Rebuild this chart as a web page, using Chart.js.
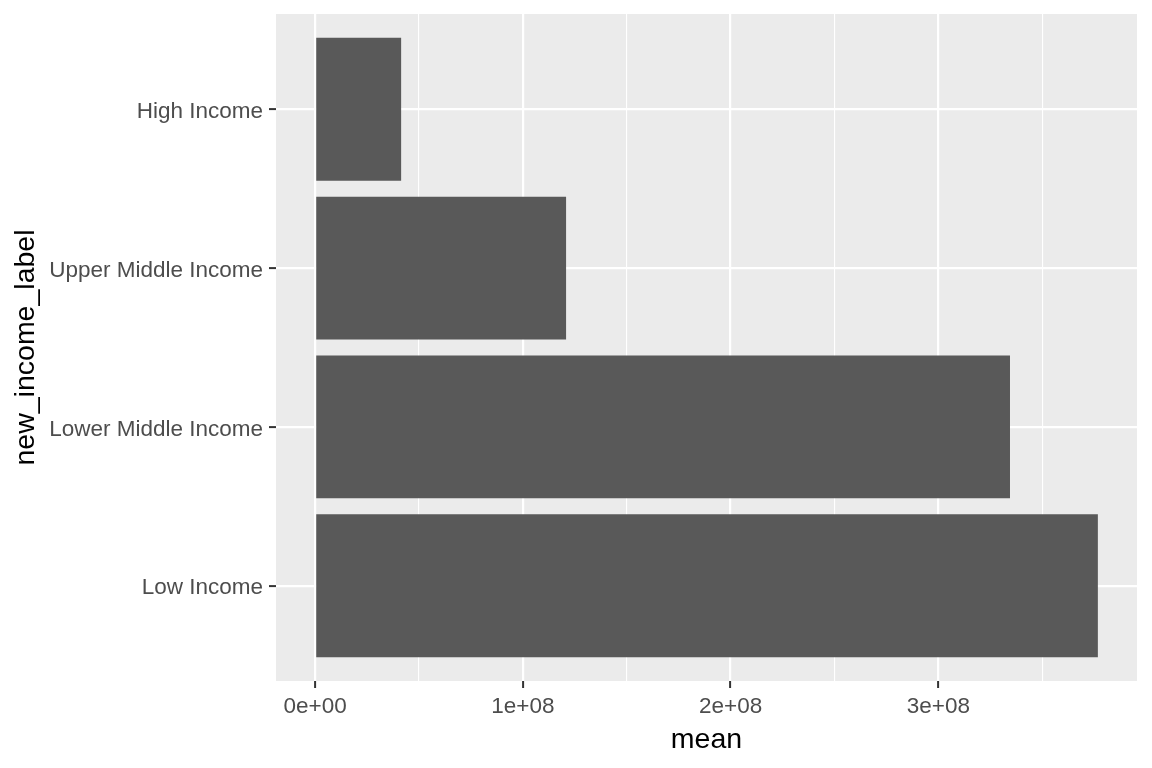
<!DOCTYPE html>
<html>
<head>
<meta charset="utf-8">
<script src="https://cdn.jsdelivr.net/npm/chart.js@4/dist/chart.umd.min.js"></script>
<style>
  html, body { margin: 0; padding: 0; background: #ffffff; }
  #wrap { width: 1152px; height: 768px; position: relative; }
</style>
</head>
<body>
<div id="wrap"><canvas id="c"></canvas></div>
<script>
// ---- data ----
const categories = ['Low Income', 'Lower Middle Income', 'Upper Middle Income', 'High Income'];
const meanValues = [376.8e6, 334.5e6, 120.8e6, 41.4e6];
const xMajorTicks = [0, 1e8, 2e8, 3e8];
const xMajorLabels = ['0e+00', '1e+08', '2e+08', '3e+08'];
const xMinorTicks = [0.5e8, 1.5e8, 2.5e8, 3.5e8];
const xTitle = 'mean';
const yTitle = 'new_income_label';

// ---- derived ----
const positions = categories.map((c, i) => i + 1);
const dataMax = Math.max(...meanValues);
const xMin = -0.05 * dataMax;
const xMax = dataMax * 1.05;
const allXTicks = xMajorTicks.concat(xMinorTicks).sort((a, b) => a - b);
const points = meanValues.map((v, i) => ({ x: v, y: positions[i] }));
const isMajorX = v => xMajorTicks.indexOf(v) !== -1;

const FONT = "'Liberation Sans', Arial, 'DejaVu Sans', sans-serif";

const panelBg = {
  id: 'panelBg',
  beforeDraw(chart) {
    const { ctx, chartArea: a } = chart;
    ctx.save();
    ctx.fillStyle = '#ffffff';
    ctx.fillRect(0, 0, chart.width, chart.height);
    ctx.fillStyle = '#EBEBEB';
    ctx.fillRect(a.left, a.top, a.right - a.left, a.bottom - a.top);
    ctx.restore();
  }
};

function zeroPad(s) {
  s.paddingTop = 0; s.paddingBottom = 0; s.paddingLeft = 0; s.paddingRight = 0;
}

new Chart(document.getElementById('c'), {
  type: 'bar',
  data: {
    datasets: [{
      data: points,
      backgroundColor: '#595959',
      borderWidth: 0,
      borderSkipped: false,
      barPercentage: 0.9,
      categoryPercentage: 1.0
    }]
  },
  options: {
    indexAxis: 'y',
    responsive: true,
    maintainAspectRatio: false,
    animation: false,
    devicePixelRatio: 1,
    layout: { padding: { top: 14, right: 15, left: 0, bottom: 0 } },
    plugins: { legend: { display: false }, tooltip: { enabled: false } },
    scales: {
      x: {
        type: 'linear',
        position: 'bottom',
        min: xMin,
        max: xMax,
        offset: false,
        afterBuildTicks: s => { s.ticks = allXTicks.map(v => ({ value: v })); },
        afterFit: s => { s.height = 87; zeroPad(s); },
        border: { display: false },
        grid: {
          offset: false,
          color: '#ffffff',
          lineWidth: c => (isMajorX(c.tick.value) ? 2.2 : 1.1),
          drawTicks: true,
          tickLength: 7,
          tickWidth: 2,
          tickColor: c => (isMajorX(c.tick.value) ? '#333333' : 'rgba(0,0,0,0)')
        },
        ticks: {
          autoSkip: false,
          maxRotation: 0,
          padding: 5,
          color: '#4D4D4D',
          font: { family: FONT, size: 22.5 },
          callback: v => { const i = xMajorTicks.indexOf(v); return i === -1 ? '' : xMajorLabels[i]; }
        },
        title: {
          display: true,
          text: xTitle,
          color: '#000000',
          font: { family: FONT, size: 28.5, lineHeight: 1.2 },
          padding: { top: 0, bottom: 10.5 }
        }
      },
      y: {
        type: 'linear',
        position: 'left',
        min: 0.4,
        max: 4.6,
        offset: false,
        afterBuildTicks: s => { s.ticks = positions.map(v => ({ value: v })); },
        afterFit: s => { s.width = 276; zeroPad(s); },
        border: { display: false },
        grid: {
          offset: false,
          color: '#ffffff',
          lineWidth: 2.2,
          drawTicks: true,
          tickLength: 7,
          tickWidth: 2,
          tickColor: '#333333'
        },
        ticks: {
          autoSkip: false,
          padding: 6,
          labelOffset: 2.5,
          color: '#4D4D4D',
          font: { family: FONT, size: 22.5 },
          callback: v => { const i = positions.indexOf(v); return i === -1 ? '' : categories[i]; }
        },
        title: {
          display: true,
          text: yTitle,
          color: '#000000',
          font: { family: FONT, size: 28.5, lineHeight: 1.2 },
          padding: { top: 9, bottom: 0 }
        }
      }
    }
  },
  plugins: [panelBg]
});
</script>
</body>
</html>
